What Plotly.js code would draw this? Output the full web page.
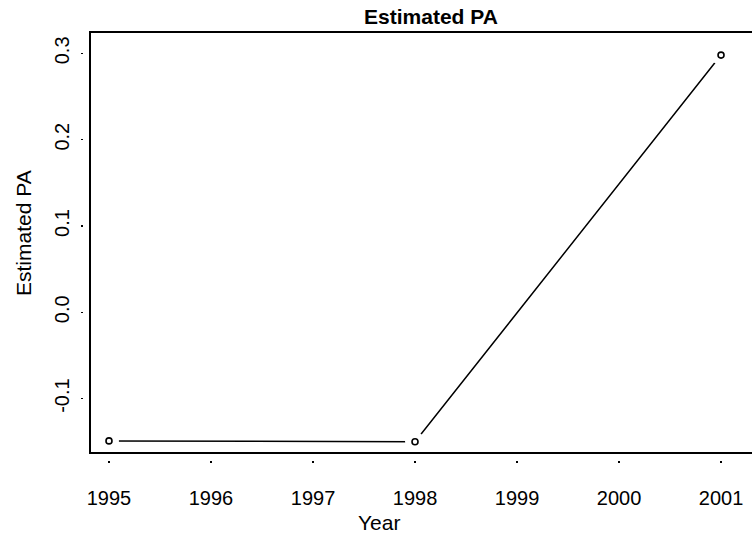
<!DOCTYPE html>
<html>
<head>
<meta charset="utf-8">
<script src="https://cdn.plot.ly/plotly-3.0.1.min.js"></script>
<style>
html,body{margin:0;padding:0;overflow:hidden;background:#fff;width:752px;height:533px;}
#chart{width:790px;height:533px;}
</style>
</head>
<body>
<div id="chart"></div>
<script>
// Data
const years = [1995, 1998, 2001];
const estimatedPA = [-0.149, -0.150, 0.298];
const xTickVals = [1995, 1996, 1997, 1998, 1999, 2000, 2001];
const xTickText = ["1995", "1996", "1997", "1998", "1999", "2000", "2001"];
const yTickVals = [-0.1, 0.0, 0.1, 0.2, 0.3];
const yTickText = ["-0.1", "0.0", "0.1", "0.2", "0.3"];

const FONT = "Liberation Sans, Arial, Helvetica, sans-serif";
const xRange = [1994.8235, 2001.382];
const yRange = [-0.1613, 0.3236];
const xDom = [0.0118, 1];
const yDom = [0.0199, 1];

const traces = [
  { x: years, y: estimatedPA, type: 'scatter', mode: 'lines',
    line: {color: 'black', width: 1.5}, xaxis: 'x', yaxis: 'y',
    hoverinfo: 'skip', showlegend: false },
  { x: years, y: estimatedPA, type: 'scatter', mode: 'markers',
    marker: {symbol: 'circle', size: 20, color: 'white', line: {width: 0}},
    xaxis: 'x', yaxis: 'y', hoverinfo: 'skip', showlegend: false, cliponaxis: false },
  { x: years, y: estimatedPA, type: 'scatter', mode: 'markers',
    marker: {symbol: 'circle-open', size: 6, color: 'black', line: {width: 1.6, color: 'black'}},
    xaxis: 'x', yaxis: 'y', showlegend: false, cliponaxis: false },
  { x: years, y: estimatedPA, type: 'scatter', mode: 'markers',
    marker: {opacity: 0}, xaxis: 'x2', yaxis: 'y2', hoverinfo: 'skip', showlegend: false }
];

const layout = {
  width: 790, height: 533,
  margin: {l: 83, r: 30, t: 33, b: 73, pad: 0},
  paper_bgcolor: 'white', plot_bgcolor: 'white',
  font: {family: FONT, color: 'black', size: 20},
  showlegend: false,
  title: {text: '<b>Estimated PA</b>', font: {family: FONT, size: 21, color: 'black'},
          xref: 'paper', x: 0.514, xanchor: 'center', yref: 'container', y: 0.968, yanchor: 'middle'},
  xaxis: {domain: xDom, range: xRange, anchor: 'y', showline: true, linewidth: 2, linecolor: 'black',
          mirror: true, showgrid: false, zeroline: false, ticks: '', showticklabels: false},
  yaxis: {domain: yDom, range: yRange, anchor: 'x', showline: true, linewidth: 2, linecolor: 'black',
          mirror: true, showgrid: false, zeroline: false, ticks: '', showticklabels: false},
  xaxis2: {overlaying: 'x', domain: xDom, range: xRange, anchor: 'free', position: 0,
           showline: false, showgrid: false, zeroline: false,
           ticks: 'outside', ticklen: 2, tickwidth: 1.5, tickcolor: 'black',
           tickmode: 'array', tickvals: xTickVals, ticktext: xTickText,
           tickfont: {family: FONT, size: 20, color: 'black'}, ticklabelstandoff: 18},
  yaxis2: {overlaying: 'y', domain: yDom, range: yRange, anchor: 'free', position: 0, side: 'left',
           showline: false, showgrid: false, zeroline: false,
           ticks: 'outside', ticklen: 2, tickwidth: 1.5, tickcolor: 'black',
           tickmode: 'array', tickvals: yTickVals, ticktext: yTickText, tickangle: -90,
           tickfont: {family: FONT, size: 20, color: 'black'}, ticklabelstandoff: 4},
  annotations: [
    {text: 'Year', xref: 'paper', yref: 'paper', x: 0.4372, y: -0.1475,
     xanchor: 'center', yanchor: 'middle', showarrow: false,
     font: {family: FONT, size: 21, color: 'black'}},
    {text: 'Estimated PA', xref: 'paper', yref: 'paper', x: -0.0886, y: 0.5316, textangle: -90,
     xanchor: 'center', yanchor: 'middle', showarrow: false,
     font: {family: FONT, size: 21, color: 'black'}}
  ]
};

Plotly.newPlot('chart', traces, layout, {displayModeBar: false, staticPlot: true});
</script>
</body>
</html>
